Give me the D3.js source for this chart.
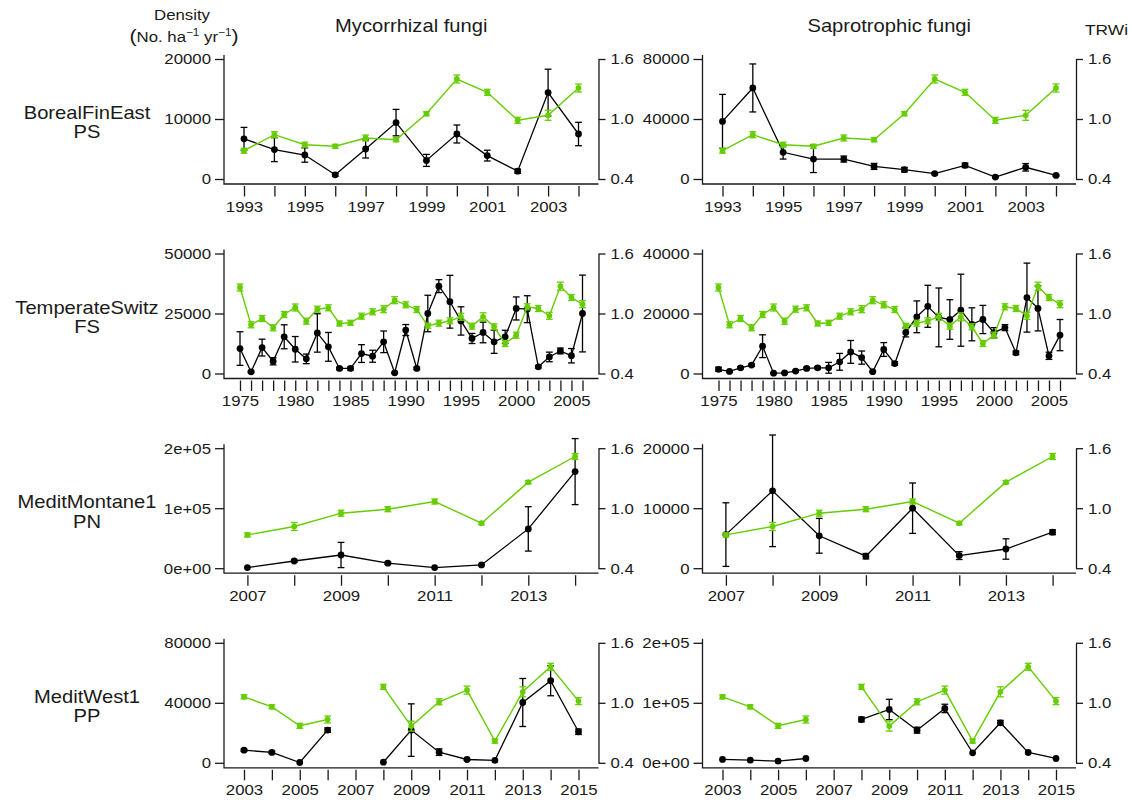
<!DOCTYPE html>
<html>
<head>
<meta charset="utf-8">
<script src="https://cdn.jsdelivr.net/npm/d3@7"></script>
<style>
  body { margin: 0; background: #fff; }
  svg { display: block; font-family: "Liberation Sans", Arial, Helvetica, sans-serif; }
</style>
</head>
<body>
<svg id="chart" width="1132" height="800"></svg>
<script>
// ---- Site labels and panel titles ----
const siteNames = ["BorealFinEast", "TemperateSwitz", "MeditMontane1", "MeditWest1"];
const speciesCodes = ["PS", "FS", "PN", "PP"];
const columnTitles = ["Mycorrhizal fungi", "Saprotrophic fungi"];

// ---- BorealFinEast (PS) ----
const borealYears = [1993, 1994, 1995, 1996, 1997, 1998, 1999, 2000, 2001, 2002, 2003, 2004];
const borealYearLabels = [1993, 1995, 1997, 1999, 2001, 2003];
const borealMyc = [6700, 4900, 4000, 700, 5000, 9400, 3100, 7500, 3900, 1300, 14400, 7500];
const borealMycErr = [1900, 2000, 1200, 250, 1500, 2200, 1000, 1500, 900, 350, 3900, 1950];
const borealSap = [38400, 60700, 17800, 13300, 13300, 8400, 6200, 3600, 9100, 1300, 7800, 2400];
const borealSapErr = [18000, 16000, 4500, 9000, 2000, 2000, 1500, 800, 1500, 500, 2500, 500];
const borealTRW = [0.683, 0.843, 0.743, 0.727, 0.81, 0.793, 1.053, 1.40, 1.267, 0.987, 1.037, 1.31];
const borealTRWErr = [0.025, 0.03, 0.025, 0.02, 0.03, 0.02, 0.02, 0.04, 0.03, 0.03, 0.05, 0.04];

// ---- TemperateSwitz (FS) ----
const swissYears = [1975, 1976, 1977, 1978, 1979, 1980, 1981, 1982, 1983, 1984, 1985, 1986, 1987, 1988, 1989, 1990,
                    1991, 1992, 1993, 1994, 1995, 1996, 1997, 1998, 1999, 2000, 2001, 2002, 2003, 2004, 2005, 2006];
const swissYearLabels = [1975, 1980, 1985, 1990, 1995, 2000, 2005];
const swissMyc = [10400, 700, 10800, 5100, 15300, 10100, 6100, 16900, 11100, 2100, 2100, 8300, 7200, 13200, 300, 18100,
                  2100, 25000, 36400, 29900, 21900, 14600, 17100, 13200, 15300, 27100, 26800, 2800, 6900, 9400, 7400, 25000];
const swissMycErr = [7000, 300, 3500, 1500, 5000, 5300, 2000, 8000, 6000, 500, 700, 3700, 2500, 4500, 200, 2300,
                     500, 7600, 2700, 11000, 5900, 2100, 4300, 4800, 2700, 4800, 5600, 500, 2000, 1200, 3000, 16000];
const swissSap = [1400, 700, 1900, 2800, 9100, 100, 200, 800, 1700, 1900, 1900, 3900, 7200, 5300, 600, 8000,
                  3300, 13700, 18900, 22400, 18700, 18000, 21100, 16400, 18000, 13600, 15300, 6900, 25300, 21700, 5900, 12800];
const swissSapErr = [700, 200, 400, 400, 3800, 100, 150, 300, 400, 400, 1800, 2800, 3800, 2200, 200, 2300,
                     600, 1500, 5300, 7000, 9800, 6600, 12000, 5500, 4700, 1700, 1000, 600, 11500, 7500, 1200, 5200];
const swissTRW = [1.26, 0.887, 0.95, 0.857, 0.99, 1.06, 0.923, 1.043, 1.057, 0.90, 0.907, 0.973, 1.017, 1.043, 1.133, 1.087,
                  1.04, 0.877, 0.903, 0.927, 0.967, 0.873, 0.967, 0.867, 0.70, 0.783, 1.067, 1.05, 0.977, 1.273, 1.16, 1.093];
const swissTRWErr = [0.035, 0.03, 0.03, 0.03, 0.03, 0.035, 0.03, 0.03, 0.03, 0.025, 0.025, 0.03, 0.03, 0.035, 0.035, 0.03,
                     0.03, 0.025, 0.03, 0.03, 0.035, 0.03, 0.04, 0.03, 0.03, 0.03, 0.03, 0.03, 0.035, 0.04, 0.03, 0.035];

// ---- MeditMontane1 (PN) ----
const montaneYears = [2007, 2008, 2009, 2010, 2011, 2012, 2013, 2014];
const montaneYearLabels = [2007, 2009, 2011, 2013];
const montaneMyc = [1000, 12000, 22000, 8300, 1000, 5500, 65500, 161000];
const montaneMycErr = [0, 2000, 21000, 2000, 0, 1000, 37000, 55000];
const montaneSap = [5600, 12900, 5400, 2000, 10000, 2100, 3200, 6000];
const montaneSapErr = [5300, 9300, 2900, 450, 4200, 650, 1700, 400];
const montaneTRW = [0.733, 0.817, 0.95, 0.99, 1.067, 0.85, 1.26, 1.517];
const montaneTRWErr = [0.02, 0.04, 0.03, 0.025, 0.025, 0.015, 0.015, 0.03];

// ---- MeditWest1 (PP); no sampling in 2007 ----
const westYears = [2003, 2004, 2005, 2006, 2007, 2008, 2009, 2010, 2011, 2012, 2013, 2014, 2015];
const westYearLabels = [2003, 2005, 2007, 2009, 2011, 2013, 2015];
const westMyc = [8400, 6900, 200, 21800, null, 400, 21800, 7100, 2200, 1600, 40200, 54700, 20700];
const westMycErr = [800, 700, 0, 1500, null, 0, 17500, 2200, 500, 0, 16000, 10000, 1800];
const westSap = [5600, 4400, 2800, 7200, null, 72200, 88900, 54400, 90600, 16700, 66700, 17200, 7200];
const westSapErr = [0, 0, 0, 0, null, 4000, 17000, 5000, 7000, 0, 4000, 0, 0];
const westTRW = [1.06, 0.96, 0.77, 0.833, null, 1.16, 0.767, 1.01, 1.127, 0.617, 1.11, 1.36, 1.017];
const westTRWErr = [0.02, 0.02, 0.025, 0.035, null, 0.025, 0.05, 0.03, 0.04, 0.02, 0.05, 0.035, 0.035];

// ---- Axis ticks ----
const mycTicks = [[0, 10000, 20000], [0, 25000, 50000], [0, 100000, 200000], [0, 40000, 80000]];
const mycTickLabels = [["0", "10000", "20000"], ["0", "25000", "50000"], ["0e+00", "1e+05", "2e+05"], ["0", "40000", "80000"]];
const sapTicks = [[0, 40000, 80000], [0, 20000, 40000], [0, 10000, 20000], [0, 100000, 200000]];
const sapTickLabels = [["0", "40000", "80000"], ["0", "20000", "40000"], ["0", "10000", "20000"], ["0e+00", "1e+05", "2e+05"]];
const trwTicks = [0.4, 1.0, 1.6];
const trwTickLabels = ["0.4", "1.0", "1.6"];

// ---- Layout ----
const SX = 1.12;                       // horizontal text stretch
const colLeft = [224, 702.5];
const colRight = [598.5, 1076];
const rowTop = [59, 253.5, 448.2, 642.8];
const plotH = 120;
const xInset = [20, 16, 23.4, 20];
const GREEN = "#66CD00";
const INK = "#1a1a1a";

const rows = [
  { years: borealYears, labels: borealYearLabels, trw: borealTRW, trwErr: borealTRWErr,
    cols: [{ v: borealMyc, e: borealMycErr }, { v: borealSap, e: borealSapErr }] },
  { years: swissYears, labels: swissYearLabels, trw: swissTRW, trwErr: swissTRWErr,
    cols: [{ v: swissMyc, e: swissMycErr }, { v: swissSap, e: swissSapErr }] },
  { years: montaneYears, labels: montaneYearLabels, trw: montaneTRW, trwErr: montaneTRWErr,
    cols: [{ v: montaneMyc, e: montaneMycErr }, { v: montaneSap, e: montaneSapErr }] },
  { years: westYears, labels: westYearLabels, trw: westTRW, trwErr: westTRWErr,
    cols: [{ v: westMyc, e: westMycErr }, { v: westSap, e: westSapErr }] }
];

const svg = d3.select("#chart");

function stretchText(sel) {
  sel.selectAll("text").each(function () {
    const t = d3.select(this);
    const x = +t.attr("x") || 0;
    t.attr("x", 0).attr("transform", `translate(${x},0) scale(${SX},1)`);
  });
}

function label(x, y, txt, size, anchor) {
  return svg.append("text")
    .attr("transform", `translate(${x},${y}) scale(${SX},1)`)
    .attr("text-anchor", anchor || "middle")
    .attr("font-size", size)
    .attr("fill", INK)
    .text(txt);
}

function styleAxis(g) {
  g.selectAll("line").attr("stroke", INK).attr("stroke-width", 1.3);
  g.selectAll("path").attr("stroke", INK).attr("stroke-width", 1.3);
  g.selectAll("text").attr("font-size", 15).attr("fill", INK);
  g.attr("font-family", null);
  stretchText(g);
}

// ---- Header ----
label(182, 20, "Density", 15);
const unit = svg.append("text")
  .attr("transform", `translate(184,41.5) scale(${SX},1)`)
  .attr("text-anchor", "middle").attr("font-size", 15).attr("fill", INK);
unit.append("tspan").attr("font-size", 19).text("(");
unit.append("tspan").text("No. ha");
unit.append("tspan").attr("font-size", 10.5).attr("dy", -6).text("\u22121");
unit.append("tspan").attr("dy", 6).text(" yr");
unit.append("tspan").attr("font-size", 10.5).attr("dy", -6).text("\u22121");
unit.append("tspan").attr("font-size", 19).attr("dy", 6).text(")");

columnTitles.forEach((t, c) => label((colLeft[c] + colRight[c]) / 2, 31.5, t, 18));
label(1085, 35, "TRWi", 15.5, "start");

// ---- Panels ----
rows.forEach((r, i) => {
  const top = rowTop[i], bottom = top + plotH;

  label(87, top + 60, siteNames[i], 18);
  label(87, top + 79.3, speciesCodes[i], 18);

  const yT = d3.scaleLinear().domain([trwTicks[0], trwTicks[2]]).range([bottom, top]);

  [0, 1].forEach(c => {
    const L = colLeft[c], R = colRight[c];
    const ticks = c === 0 ? mycTicks[i] : sapTicks[i];
    const tickLabels = c === 0 ? mycTickLabels[i] : sapTickLabels[i];
    const x = d3.scaleLinear()
      .domain([r.years[0], r.years[r.years.length - 1]])
      .range([L + xInset[i], R - xInset[i]]);
    const yD = d3.scaleLinear().domain([0, ticks[2]]).range([bottom, top]);
    const g = svg.append("g");

    // L-shaped frame
    g.append("path")
      .attr("d", `M${L},${top - 4}V${bottom + 5}H${R}`)
      .attr("fill", "none").attr("stroke", INK).attr("stroke-width", 1.3);

    // density axis
    g.append("g").attr("transform", `translate(${L},0)`)
      .call(d3.axisLeft(yD).tickValues(ticks).tickFormat((d, k) => tickLabels[k])
        .tickSize(9).tickPadding(4))
      .call(a => a.select(".domain").remove())
      .call(styleAxis);

    // tree-ring index axis
    g.append("g").attr("transform", `translate(${R},0)`)
      .call(d3.axisRight(yT).tickValues(trwTicks).tickFormat((d, k) => trwTickLabels[k])
        .tickSize(7).tickSizeOuter(0).tickPadding(5))
      .call(styleAxis);

    // year axis
    g.append("g").attr("transform", `translate(0,${bottom + 7})`)
      .call(d3.axisBottom(x).tickValues(r.years)
        .tickFormat(d => r.labels.includes(d) ? String(d) : "")
        .tickSize(10.5).tickPadding(4.5))
      .call(a => a.select(".domain").remove())
      .call(styleAxis);

    // series: fungi density (black) then tree-ring index (green)
    const series = [
      { v: r.cols[c].v, e: r.cols[c].e, y: yD, color: "#000", r: 3.4, w: 1.3 },
      { v: r.trw, e: r.trwErr, y: yT, color: GREEN, r: 2.9, w: 1.4 }
    ];
    series.forEach(s => {
      const pts = r.years.map((yr, k) => ({ yr, v: s.v[k], e: s.e[k] }));
      const line = d3.line().defined(d => d.v != null).x(d => x(d.yr)).y(d => s.y(d.v));
      g.append("path").datum(pts).attr("d", line)
        .attr("fill", "none").attr("stroke", s.color).attr("stroke-width", s.w);
      const valid = pts.filter(d => d.v != null);
      const bars = g.append("g").attr("stroke", s.color).attr("stroke-width", 1.3);
      valid.filter(d => d.e > 0).forEach(d => {
        const xx = x(d.yr), yHi = s.y(d.v + d.e), yLo = s.y(d.v - d.e);
        bars.append("line").attr("x1", xx).attr("x2", xx).attr("y1", yHi).attr("y2", yLo);
        bars.append("line").attr("x1", xx - 3.4).attr("x2", xx + 3.4).attr("y1", yHi).attr("y2", yHi);
        bars.append("line").attr("x1", xx - 3.4).attr("x2", xx + 3.4).attr("y1", yLo).attr("y2", yLo);
      });
      g.append("g").selectAll("circle").data(valid).join("circle")
        .attr("cx", d => x(d.yr)).attr("cy", d => s.y(d.v)).attr("r", s.r)
        .attr("fill", s.color);
    });
  });
});
</script>
</body>
</html>
